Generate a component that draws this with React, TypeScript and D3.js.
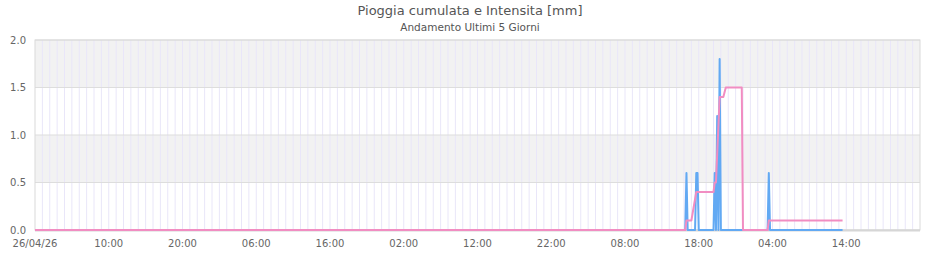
import React from 'react';
import * as d3 from 'd3';

const TITLE = 'Pioggia cumulata e Intensita [mm]';
const SUBTITLE = 'Andamento Ultimi 5 Giorni';

const RANGE_START = '2026-04-26T00:00';
const RANGE_END = '2026-05-01T00:00';

// Intensity series (blue) – change points, 10-minute samples
const intensityTimes = [
  '2026-04-26T00:00', '2026-04-29T16:10', '2026-04-29T16:20', '2026-04-29T16:30',
  '2026-04-29T17:30', '2026-04-29T17:40', '2026-04-29T17:50', '2026-04-29T18:00',
  '2026-04-29T20:00', '2026-04-29T20:10', '2026-04-29T20:20', '2026-04-29T20:30',
  '2026-04-29T20:40', '2026-04-29T20:50', '2026-04-29T21:00',
  '2026-04-30T03:20', '2026-04-30T03:30', '2026-04-30T03:40', '2026-04-30T13:30',
];
const intensityValues = [
  0, 0, 0.6, 0,
  0, 0.6, 0.6, 0,
  0, 0.6, 0, 1.2,
  0, 1.8, 0,
  0, 0.6, 0, 0,
];

// Cumulative rain series (pink)
const cumulativeTimes = [
  '2026-04-26T00:00', '2026-04-29T16:10', '2026-04-29T16:20', '2026-04-29T17:00',
  '2026-04-29T17:40', '2026-04-29T20:00', '2026-04-29T20:10', '2026-04-29T20:20',
  '2026-04-29T20:50', '2026-04-29T21:20', '2026-04-29T21:40', '2026-04-29T23:50',
  '2026-04-30T00:00', '2026-04-30T03:20', '2026-04-30T03:30', '2026-04-30T13:30',
];
const cumulativeValues = [
  0, 0, 0.1, 0.1,
  0.4, 0.4, 0.5, 0.5,
  1.4, 1.4, 1.5, 1.5,
  0, 0, 0.1, 0.1,
];

const xTickTimes = [
  '2026-04-26T00:00', '2026-04-26T10:00', '2026-04-26T20:00', '2026-04-27T06:00',
  '2026-04-27T16:00', '2026-04-28T02:00', '2026-04-28T12:00', '2026-04-28T22:00',
  '2026-04-29T08:00', '2026-04-29T18:00', '2026-04-30T04:00', '2026-04-30T14:00',
];
const xTickLabels = [
  '26/04/26', '10:00', '20:00', '06:00', '16:00', '02:00',
  '12:00', '22:00', '08:00', '18:00', '04:00', '14:00',
];
const yTicks = [0, 0.5, 1, 1.5, 2];
const yBands = [[0.5, 1], [1.5, 2]];

const parse = d3.timeParse('%Y-%m-%dT%H:%M');

const W = 940;
const H = 260;
const PL = 35, PR = 920, PT = 40, PB = 230;
const FONT = '"DejaVu Sans", Verdana, sans-serif';

export default function App() {
  const x = d3.scaleTime().domain([parse(RANGE_START)!, parse(RANGE_END)!]).range([PL, PR]);
  const y = d3.scaleLinear().domain([0, 2]).range([PB, PT]);

  const hourLines = x.ticks(d3.timeHour.every(1)!).filter((d) => x(d) > PL + 0.5 && x(d) < PR - 0.5);

  const intensity = intensityTimes.map((t, i) => ({ t: parse(t)!, v: intensityValues[i] }));
  const cumulative = cumulativeTimes.map((t, i) => ({ t: parse(t)!, v: cumulativeValues[i] }));

  const line = d3
    .line<{ t: Date; v: number }>()
    .x((d) => x(d.t))
    .y((d) => y(d.v));

  return (
    <svg width={W} height={H} style={{ position: 'absolute', left: 0, top: 0, fontFamily: FONT }}>
      <rect x={0} y={0} width={W} height={H} fill="#ffffff" />
      <text x={470} y={15} textAnchor="middle" fontSize={13} fill="#555555">{TITLE}</text>
      <text x={470} y={31} textAnchor="middle" fontSize={10.5} fill="#555555">{SUBTITLE}</text>

      {/* bands */}
      {yBands.map(([a, b], i) => (
        <rect key={i} x={PL} y={y(b)} width={PR - PL} height={y(a) - y(b)} fill="#f2f2f2" />
      ))}
      {/* hourly vertical grid */}
      {hourLines.map((d, i) => (
        <line key={i} x1={x(d)} x2={x(d)} y1={PT} y2={PB} stroke="#e9e6f9" strokeWidth={1} />
      ))}
      {/* horizontal grid */}
      {yTicks.map((v) => (
        <line key={v} x1={PL} x2={PR} y1={y(v)} y2={y(v)} stroke="#dddddd" strokeWidth={1} />
      ))}
      {/* frame */}
      <rect x={PL} y={PT} width={PR - PL} height={PB - PT} fill="none" stroke="#dadada" strokeWidth={1} />
      <line x1={PL} x2={PR} y1={PB + 0.5} y2={PB + 0.5} stroke="#d6d6d6" strokeWidth={2} />

      {/* series */}
      <path d={line(intensity)!} fill="none" stroke="#62a9f3" strokeWidth={2} strokeLinejoin="round" />
      <path d={line(cumulative)!} fill="none" stroke="#f18dc2" strokeWidth={2} strokeLinejoin="round" />

      {/* y labels */}
      {yTicks.map((v) => (
        <text key={v} x={26} y={y(v)} dy="0.35em" textAnchor="end" fontSize={10} fill="#666666">
          {d3.format('.1f')(v)}
        </text>
      ))}
      {/* x labels */}
      {xTickTimes.map((t, i) => (
        <text key={t} x={x(parse(t)!)} y={247} textAnchor="middle" fontSize={10} fill="#666666">
          {xTickLabels[i]}
        </text>
      ))}
    </svg>
  );
}
